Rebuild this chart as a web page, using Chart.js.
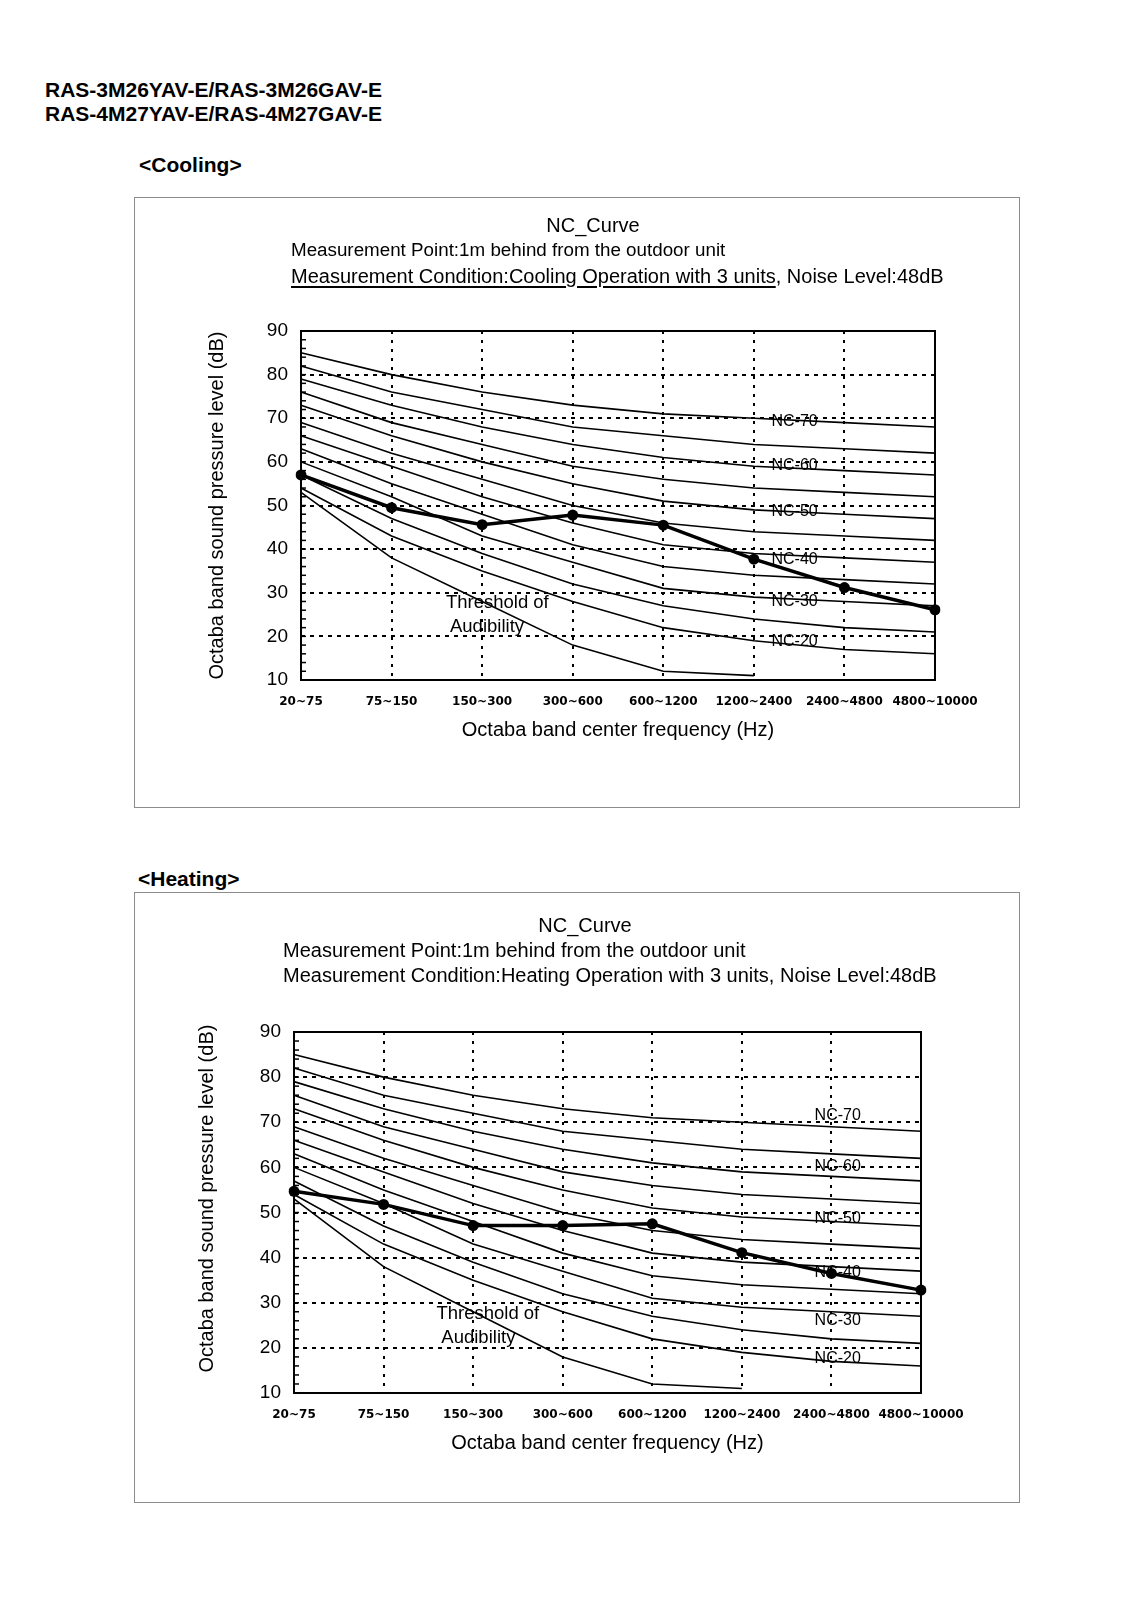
<!DOCTYPE html>
<html>
<head>
<meta charset="utf-8">
<script src="https://cdn.jsdelivr.net/npm/chart.js@4.4.1/dist/chart.umd.min.js"></script>
<style>
  html, body { margin: 0; padding: 0; background: #fff; }
  body { width: 1132px; height: 1600px; position: relative; overflow: hidden;
         font-family: "Liberation Sans", Arial, sans-serif; color: #000; }
  .t { position: absolute; white-space: nowrap; line-height: 1; }
  .head { font-weight: bold; font-size: 21px; }
  .cap { font-size: 20px; }
  .mid { transform: translateX(-50%); }
  .frame { position: absolute; border: 1px solid #8c8c8c; box-sizing: border-box; }
  .box { position: absolute; width: 885px; height: 610px; }
  u { text-underline-offset: 3px; text-decoration-thickness: 1.5px; }
</style>
</head>
<body>
<div class="t head" style="left:45px;top:79px">RAS-3M26YAV-E/RAS-3M26GAV-E</div>
<div class="t head" style="left:45px;top:103px">RAS-4M27YAV-E/RAS-4M27GAV-E</div>
<div class="t head" style="left:139px;top:153.5px">&lt;Cooling&gt;</div>
<div class="t head" style="left:138px;top:867.5px">&lt;Heating&gt;</div>

<div class="frame" style="left:134px;top:197px;width:886px;height:611px"></div>
<div class="box" style="left:134px;top:197px"><canvas id="coolingChart"></canvas></div>
<div class="t cap mid" style="left:593px;top:215px">NC_Curve</div>
<div class="t cap" style="left:291px;top:241px;font-size:18.8px">Measurement Point:1m behind from the outdoor unit</div>
<div class="t cap" style="left:291px;top:266px"><u>Measurement Condition:Cooling Operation with 3 units</u>, Noise Level:48dB</div>

<div class="frame" style="left:134px;top:892px;width:886px;height:611px"></div>
<div class="box" style="left:134px;top:892px"><canvas id="heatingChart"></canvas></div>
<div class="t cap mid" style="left:585px;top:915px">NC_Curve</div>
<div class="t cap" style="left:283px;top:940px">Measurement Point:1m behind from the outdoor unit</div>
<div class="t cap" style="left:283px;top:965px">Measurement Condition:Heating Operation with 3 units, Noise Level:48dB</div>

<script>
// ── Data ──────────────────────────────────────────────────────

const bands = ["20~75", "75~150", "150~300", "300~600", "600~1200", "1200~2400", "2400~4800", "4800~10000"];
const yTicks = [10, 20, 30, 40, 50, 60, 70, 80, 90];

// NC reference curves, one value per octave band (dB)
const nc70 = [85, 80, 76, 73, 71, 70, 69, 68];
const nc65 = [82, 76, 72, 68, 66, 64, 63, 62];
const nc60 = [79, 73, 68, 64, 61, 59, 58, 57];
const nc55 = [76, 69, 64, 59, 56, 54, 53, 52];
const nc50 = [73, 66, 60, 55, 51, 49, 48, 47];
const nc45 = [69, 62, 56, 50, 46, 44, 43, 42];
const nc40 = [66, 59, 52, 46, 41, 39, 38, 37];
const nc35 = [63, 55, 48, 41, 36, 34, 33, 32];
const nc30 = [60, 52, 43, 37, 31, 29, 28, 27];
const nc25 = [57, 47, 39, 32, 27, 24, 22, 21];
const nc20 = [54, 43, 35, 28, 22, 19, 17, 16];
// threshold of audibility stops at the 1200~2400 band
const threshold = [53, 38, 28, 18, 12, 11, null, null];

// measured levels
const coolingLevel = [57, 49.5, 45.6, 47.8, 45.5, 37.7, 31.2, 26.1];
const heatingLevel = [54.7, 51.8, 47.1, 47.1, 47.5, 41.1, 36.5, 32.8];

const ncNames = ["NC-70", "NC-60", "NC-50", "NC-40", "NC-30", "NC-20"];

// ── Chart building ────────────────────────────────────────────

Chart.defaults.font.family = '"Liberation Sans", Arial, sans-serif';
Chart.defaults.color = "#000";

const ncCurves = [nc70, nc65, nc60, nc55, nc50, nc45, nc40, nc35, nc30, nc25, nc20];

// frame, inward minor ticks on the dB axis, and the in-plot labels
const ncDecor = {
  id: "ncDecor",
  afterDraw(chart, args, opts) {
    const { ctx, chartArea: a, scales: { x, y } } = chart;
    ctx.save();
    ctx.strokeStyle = "#000";
    ctx.lineWidth = 1.5;
    for (let v = 12; v < 90; v += 2) {
      const py = y.getPixelForValue(v);
      ctx.beginPath();
      ctx.moveTo(a.left, py);
      ctx.lineTo(a.left + 5, py);
      ctx.stroke();
    }
    ctx.lineWidth = 2;
    ctx.strokeRect(a.left, a.top, a.right - a.left, a.bottom - a.top);

    ctx.fillStyle = "#000";
    ctx.textBaseline = "middle";
    ctx.font = '16px "Liberation Sans", Arial, sans-serif';
    ctx.textAlign = "center";
    ncNames.forEach((name, i) => {
      ctx.fillText(name, x.getPixelForValue(opts.tagX), y.getPixelForValue(opts.tagY[i]));
    });
    ctx.font = '18.5px "Liberation Sans", Arial, sans-serif';
    ctx.textAlign = "left";
    ctx.fillText("Threshold of", x.getPixelForValue(opts.thrX[0]), y.getPixelForValue(opts.thrY[0]));
    ctx.fillText("Audibility", x.getPixelForValue(opts.thrX[1]), y.getPixelForValue(opts.thrY[1]));
    ctx.restore();
  },
};

function buildChart(id, level, box, decor, yTitle) {
  const datasets = [
    {
      data: level,
      borderColor: "#000",
      backgroundColor: "#000",
      borderWidth: 3.5,
      pointRadius: 5.5,
      pointBorderWidth: 0,
    },
    ...ncCurves.map((vals) => ({ data: vals, borderColor: "#000", borderWidth: 1.6, pointRadius: 0 })),
    { data: threshold, borderColor: "#000", borderWidth: 1.6, pointRadius: 0, spanGaps: false },
  ];

  return new Chart(document.getElementById(id), {
    type: "line",
    data: { labels: bands, datasets },
    plugins: [ncDecor],
    options: {
      responsive: true,
      maintainAspectRatio: false,
      animation: false,
      elements: { line: { tension: 0 } },
      layout: { padding: { left: 0, right: box.right, top: box.top, bottom: 0 } },
      plugins: { legend: { display: false }, tooltip: { enabled: false }, ncDecor: decor },
      scales: {
        x: {
          type: "category",
          offset: false,
          afterFit: (s) => { s.height = box.xHeight; },
          grid: {
            drawTicks: false,
            lineWidth: 2,
            color: (c) => (c.index === 0 || c.index === bands.length - 1 ? "rgba(0,0,0,0)" : "#000"),
          },
          border: { display: false, dash: [3, 6] },
          ticks: {
            padding: 15,
            maxRotation: 0,
            autoSkip: false,
            font: { family: "DejaVu Sans", size: 12, weight: "bold" },
          },
          title: {
            display: true,
            text: "Octaba band center frequency (Hz)",
            font: { size: 20 },
            padding: { top: 0, bottom: box.xTitlePad },
          },
        },
        y: {
          min: 10,
          max: 90,
          afterFit: (s) => { s.width = box.left; },
          afterBuildTicks: (s) => { s.ticks = yTicks.map((v) => ({ value: v })); },
          grid: {
            drawTicks: false,
            lineWidth: 2,
            color: (c) => (c.tick && (c.tick.value === 10 || c.tick.value === 90) ? "rgba(0,0,0,0)" : "#000"),
          },
          border: { display: false, dash: [4, 5] },
          ticks: { padding: 13, font: { size: 19 } },
          title: {
            display: true,
            text: yTitle,
            font: { size: 20 },
            padding: { top: box.yTitlePad, bottom: 0 },
          },
        },
      },
    },
  });
}

buildChart(
  "coolingChart",
  coolingLevel,
  { left: 167, right: 84, top: 134, xHeight: 127, xTitlePad: 65, yTitlePad: 71 },
  { tagX: 5.45, tagY: [69.2, 59.1, 48.6, 37.5, 27.9, 18.8], thrX: [1.6, 1.645], thrY: [27.6, 22.2] },
  "Octaba band sound pressure level (dB)"
);

buildChart(
  "heatingChart",
  heatingLevel,
  { left: 160, right: 98, top: 140, xHeight: 109, xTitlePad: 47, yTitlePad: 61 },
  { tagX: 6.07, tagY: [71.4, 60.2, 48.7, 36.6, 26.0, 17.6], thrX: [1.59, 1.645], thrY: [27.5, 22.1] },
  "     Octaba band sound pressure level (dB)"
);
</script>
</body>
</html>
